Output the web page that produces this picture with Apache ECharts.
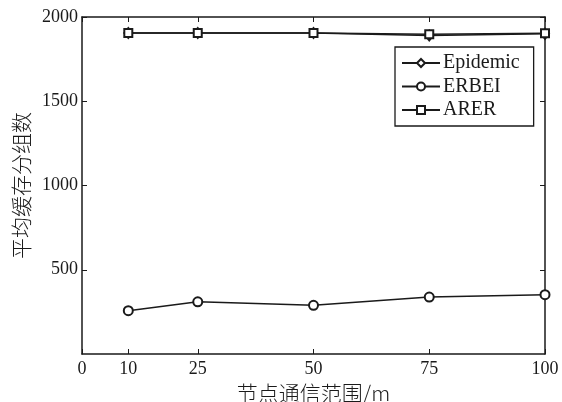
<!DOCTYPE html>
<html><head><meta charset="utf-8">
<script src="https://cdn.jsdelivr.net/npm/echarts@6/dist/echarts.min.js"></script>
<style>html,body{margin:0;padding:0;background:#fff}#c{width:562px;height:402px}</style>
</head><body><div id="c"></div>
<script>
var xValues = [10, 25, 50, 75, 100];
var epidemic = [1905, 1905, 1905, 1890, 1900];
var erbei = [257, 310, 289, 338, 352];
var arer = [1905, 1905, 1905, 1898, 1903];
var xTicks = [0, 10, 25, 50, 75, 100];
var yTicks = [500, 1000, 1500, 2000];
var seriesNames = ['Epidemic', 'ERBEI', 'ARER'];
var xName = '节点通信范围/m';
var yName = '平均缓存分组数';

var serif = '"Liberation Serif", "DejaVu Serif", serif';
var cjk = '"Noto Sans CJK SC", "Liberation Serif", serif';
var ink = '#1a1a1a';
function pairs(v){ return xValues.map(function(x,i){return [x, v[i]];}); }
function plain(v){ return String(v); }
var axisLine = {show:true, onZero:false, lineStyle:{color:ink, width:1.5}};
var chart = echarts.init(document.getElementById('c'));
chart.setOption({
  animation:false,
  backgroundColor:'#fff',
  grid:{left:82, right:17, top:17, bottom:48, containLabel:false, outerBoundsMode:'none'},
  legend:{
    data:seriesNames,
    orient:'vertical', left:395, top:47,
    padding:[6,14,6,6], itemGap:3.5, itemWidth:38, itemHeight:10,
    borderColor:ink, borderWidth:1.3, backgroundColor:'#fff',
    textStyle:{fontFamily:serif, fontSize:20, color:ink, padding:[0,0,0,-2]}
  },
  xAxis:[{
    type:'value', min:0, max:100, position:'bottom',
    name:xName, nameLocation:'middle', nameGap:28,
    nameTextStyle:{fontFamily:cjk, fontSize:21, color:ink, fontWeight:300},
    axisLine:axisLine,
    axisTick:{show:true, inside:true, length:5, customValues:xTicks, lineStyle:{color:ink}},
    axisLabel:{customValues:xTicks, margin:6, fontFamily:serif, fontSize:18, color:ink, formatter:plain},
    splitLine:{show:false}
  },{
    type:'value', min:0, max:100, position:'top',
    axisLine:axisLine,
    axisTick:{show:true, inside:true, length:5, customValues:xTicks, lineStyle:{color:ink}},
    axisLabel:{show:false}, splitLine:{show:false}
  }],
  yAxis:[{
    type:'value', min:0, max:2000, position:'left',
    name:yName, nameLocation:'middle', nameGap:50, nameRotate:90,
    nameTextStyle:{fontFamily:cjk, fontSize:21, color:ink, fontWeight:300},
    axisLine:axisLine,
    axisTick:{show:true, inside:true, length:5, customValues:yTicks, lineStyle:{color:ink}},
    axisLabel:{customValues:yTicks, margin:4, fontFamily:serif, fontSize:18, color:ink, formatter:plain},
    splitLine:{show:false}
  },{
    type:'value', min:0, max:2000, position:'right',
    axisLine:axisLine,
    axisTick:{show:true, inside:true, length:5, customValues:yTicks, lineStyle:{color:ink}},
    axisLabel:{show:false}, splitLine:{show:false}
  }],
  series:[
    {name:seriesNames[0], type:'line', data:pairs(epidemic), symbol:'emptyDiamond', symbolSize:[8,10],
     lineStyle:{color:ink, width:1.5}, itemStyle:{color:ink, borderWidth:1.5}},
    {name:seriesNames[1], type:'line', data:pairs(erbei), symbol:'emptyCircle', symbolSize:9,
     lineStyle:{color:ink, width:1.5}, itemStyle:{color:ink, borderWidth:1.5}},
    {name:seriesNames[2], type:'line', xAxisIndex:1, yAxisIndex:1, data:pairs(arer), symbol:'emptyRect', symbolSize:8,
     lineStyle:{color:ink, width:1.5}, itemStyle:{color:ink, borderWidth:1.5}}
  ]
});
</script></body></html>
